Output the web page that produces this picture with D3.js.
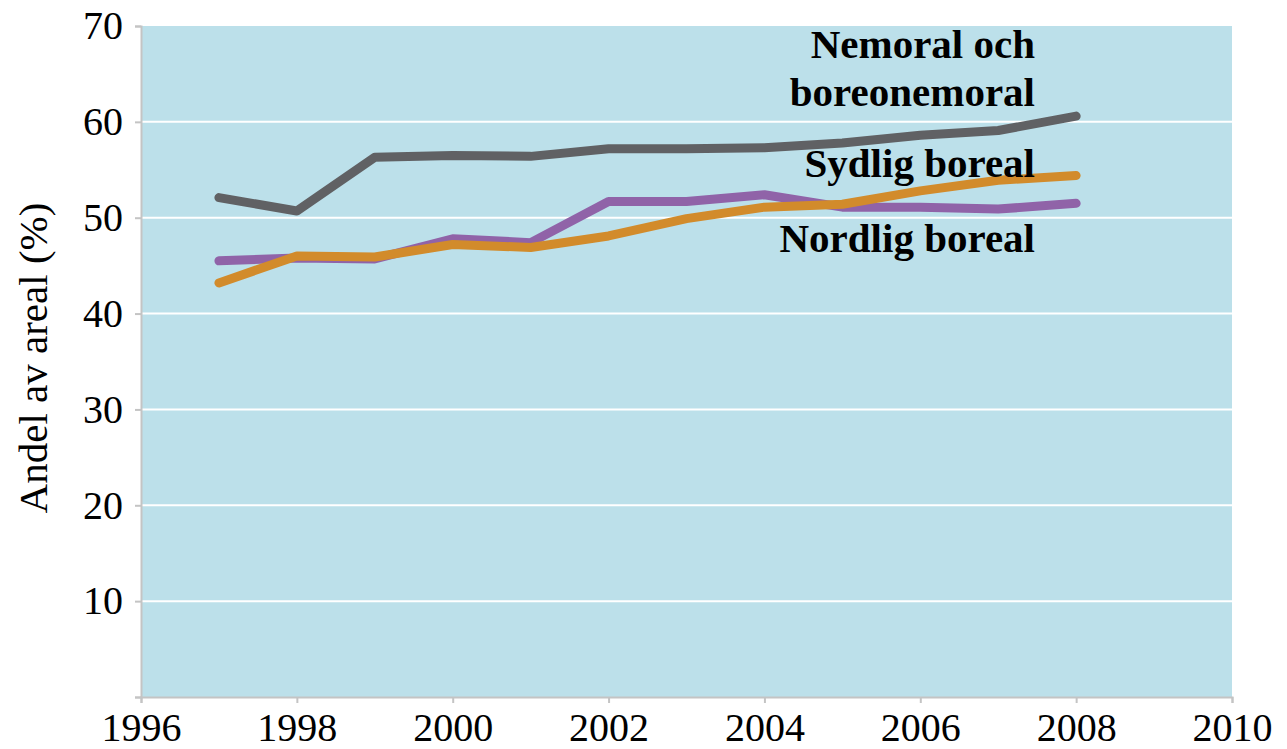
<!DOCTYPE html>
<html>
<head>
<meta charset="utf-8">
<script src="https://cdn.jsdelivr.net/npm/d3@7"></script>
<style>
  body { margin: 0; background: #fff; }
  text { font-family: "Liberation Serif", "Times New Roman", serif; }
</style>
</head>
<body>
<script>
var years = [1997, 1998, 1999, 2000, 2001, 2002, 2003, 2004, 2005, 2006, 2007, 2008];
var nemoral = [52.1, 50.7, 56.3, 56.5, 56.4, 57.2, 57.2, 57.3, 57.8, 58.6, 59.1, 60.6];
var nordlig = [45.5, 45.8, 45.7, 47.8, 47.4, 51.7, 51.7, 52.4, 51.1, 51.1, 50.9, 51.5];
var sydlig = [43.2, 46.0, 45.9, 47.2, 46.9, 48.1, 49.9, 51.1, 51.4, 52.8, 53.9, 54.4];
var xTicks = [1996, 1998, 2000, 2002, 2004, 2006, 2008, 2010];
var yTicks = [10, 20, 30, 40, 50, 60, 70];

var series = [
  {name: "nordlig", values: nordlig, color: "#9063a8"},
  {name: "sydlig", values: sydlig, color: "#d28b2b"},
  {name: "nemoral", values: nemoral, color: "#606164"}
];

var W = 1287, H = 749;
var m = {left: 141, right: 1232, top: 26, bottom: 697};

var svg = d3.select("body").append("svg")
    .attr("width", W)
    .attr("height", H);

var x = d3.scaleLinear().domain([1996, 2010]).range([m.left, m.right]);
var y = d3.scaleLinear().domain([0, 70]).range([m.bottom, m.top]);

// plot background
svg.append("rect")
    .attr("x", m.left).attr("y", m.top)
    .attr("width", m.right - m.left).attr("height", m.bottom - m.top)
    .attr("fill", "#bce0ea");

// gridlines
svg.append("g").selectAll("line")
    .data(yTicks.slice(0, -1))
  .enter().append("line")
    .attr("x1", m.left).attr("x2", m.right)
    .attr("y1", function(d) { return y(d); })
    .attr("y2", function(d) { return y(d); })
    .attr("stroke", "#fff")
    .attr("stroke-width", 2);

// axes
var yAxis = svg.append("g")
    .attr("transform", "translate(" + m.left + ",0)")
    .call(d3.axisLeft(y).tickValues([0].concat(yTicks)).tickFormat(function(d) { return d ? d : ""; }).tickSize(6).tickPadding(12));
var xAxis = svg.append("g")
    .attr("transform", "translate(0," + m.bottom + ")")
    .call(d3.axisBottom(x).tickValues(xTicks).tickFormat(d3.format("d")).tickSize(6).tickPadding(8));

[yAxis, xAxis].forEach(function(a) {
  a.select(".domain").attr("stroke", "#c4c4c4").attr("stroke-width", 2);
  a.selectAll(".tick line").attr("stroke", "#c4c4c4").attr("stroke-width", 2);
  a.selectAll(".tick text")
      .attr("fill", "#000")
      .style("font-family", "'Liberation Serif', serif")
      .style("font-size", "40px");
});
yAxis.selectAll(".tick text").attr("dy", "0.32em");
xAxis.selectAll(".tick text").attr("dy", "0.76em");

// y-axis title
svg.append("text")
    .attr("transform", "translate(47,358)rotate(-90)")
    .attr("text-anchor", "middle")
    .style("font-size", "41px")
    .text("Andel av areal (%)");

// lines
var line = d3.line()
    .x(function(d, i) { return x(years[i]); })
    .y(function(d) { return y(d); });

svg.append("g").selectAll("path")
    .data(series)
  .enter().append("path")
    .attr("d", function(d) { return line(d.values); })
    .attr("fill", "none")
    .attr("stroke", function(d) { return d.color; })
    .attr("stroke-width", 9)
    .attr("stroke-linejoin", "round")
    .attr("stroke-linecap", "round");

// series labels
var labels = [
  {text: "Nemoral och", y: 58},
  {text: "boreonemoral", y: 106},
  {text: "Sydlig boreal", y: 177},
  {text: "Nordlig boreal", y: 252}
];
svg.append("g").selectAll("text")
    .data(labels)
  .enter().append("text")
    .attr("x", 1035)
    .attr("y", function(d) { return d.y; })
    .attr("text-anchor", "end")
    .style("font-size", "41px")
    .style("font-weight", "bold")
    .text(function(d) { return d.text; });
</script>
</body>
</html>
